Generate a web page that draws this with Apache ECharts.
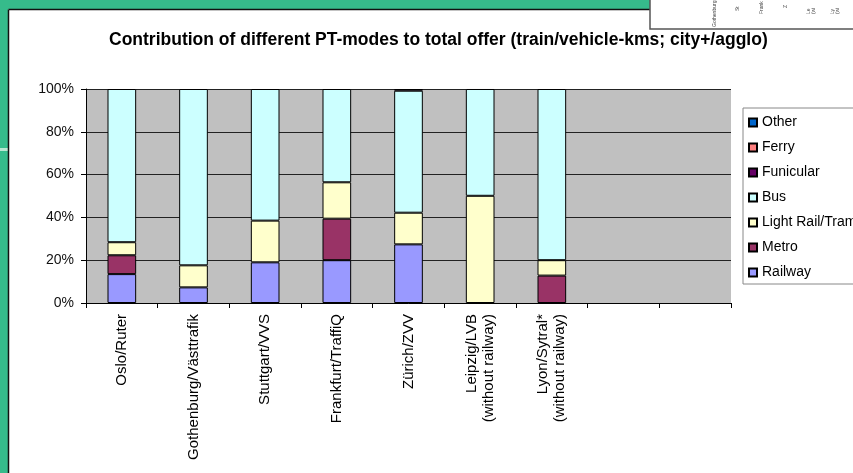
<!DOCTYPE html>
<html>
<head>
<meta charset="utf-8">
<script src="https://cdn.jsdelivr.net/npm/echarts@6/dist/echarts.min.js"></script>
<style>
  html, body { margin: 0; padding: 0; background: #fff; }
  #chart { width: 853px; height: 473px; }
</style>
</head>
<body>
<div id="chart"></div>
<script>
// categories (last two slots are empty in the source chart)
const cities = [
  'Oslo/Ruter', 'Gothenburg/Västtrafik', 'Stuttgart/VVS', 'Frankfurt/TraffiQ', 'Zürich/ZVV',
  'Leipzig/LVB\n(without railway)', 'Lyon/Sytral*\n(without railway)', '', ' '
];
const yTicks = [0, 20, 40, 60, 80, 100];

// shares in % of train/vehicle-kms
const railway   = [13.5, 7.3, 19.0, 20.0, 27.4, null, null, null, null];
const metro     = [8.8, null, null, 19.4, null, null, 12.8, null, null];
const lightRail = [6.1, 10.3, 19.5, 17.0, 14.8, 50.1, 7.2, null, null];
const bus       = [71.6, 82.4, 61.5, 43.6, 57.0, 49.9, 80.0, null, null];
const funicular = [null, null, null, null, 0.8, null, null, null, null];
const ferry     = [null, null, null, null, null, null, null, null, null];
const other     = [null, null, null, null, null, null, null, null, null];

const modes = [
  { name: 'Railway', data: railway, color: '#9999ff' },
  { name: 'Metro', data: metro, color: '#993366' },
  { name: 'Light Rail/Tram', data: lightRail, color: '#ffffcc' },
  { name: 'Bus', data: bus, color: '#ccffff' },
  { name: 'Funicular', data: funicular, color: '#660066' },
  { name: 'Ferry', data: ferry, color: '#ff8080' },
  { name: 'Other', data: other, color: '#0066cc' }
];

const chart = echarts.init(document.getElementById('chart'));
const font = 'Liberation Sans, Arial, sans-serif';

// tiny labels of the thumbnail in the top right corner
const thumb = [[712, 27, 'Gothenburg'], [735, 11, 'St'], [759, 14, 'Frank'], [783, 8, 'Z'], [806, 14, 'Le\n(wi'], [830, 14, 'Ly\n(wi']];

chart.setOption({
  backgroundColor: '#fff',
  animation: false,
  textStyle: { fontFamily: font },
  title: {
    text: 'Contribution of different PT-modes to total offer (train/vehicle-kms; city+/agglo)',
    left: 104,
    top: 26,
    textStyle: { fontFamily: font, fontSize: 17.5, fontWeight: 'bold', color: '#000' }
  },
  legend: {
    orient: 'vertical',
    left: 743,
    top: 108,
    padding: [6, 40, 3, 5],
    icon: 'rect',
    itemWidth: 8,
    itemHeight: 8,
    itemGap: 8,
    backgroundColor: '#fff',
    borderColor: '#888',
    borderWidth: 1,
    data: modes.map(m => m.name).reverse(),
    textStyle: { fontFamily: font, fontSize: 14, color: '#000', lineHeight: 17 }
  },
  grid: { left: 86, right: 122, top: 89, bottom: 170, backgroundColor: '#c0c0c0', show: true, borderWidth: 0 },
  xAxis: {
    type: 'category',
    data: cities,
    axisLine: { lineStyle: { color: '#000', width: 1 } },
    axisTick: { show: true, length: 5, lineStyle: { color: '#000' } },
    axisLabel: { rotate: 90, interval: 0, margin: 11, fontSize: 15, color: '#000', fontFamily: font, lineHeight: 17 }
  },
  yAxis: {
    type: 'value',
    min: yTicks[0],
    max: yTicks[yTicks.length - 1],
    interval: 20,
    axisLine: { show: true, lineStyle: { color: '#000' } },
    axisTick: { show: true, length: 5, lineStyle: { color: '#000' } },
    splitLine: { lineStyle: { color: '#222', width: 1 } },
    axisLabel: { formatter: '{value}%', fontSize: 14, color: '#111', margin: 12, fontFamily: font }
  },
  series: modes.map(m => ({
    name: m.name,
    type: 'bar',
    stack: 'total',
    barWidth: '40%',
    data: m.data,
    itemStyle: { color: m.color, borderColor: '#000', borderWidth: 1 }
  })),
  graphic: [
    // green slide frame around the chart picture
    { type: 'rect', shape: { x: 0, y: 0, width: 853, height: 9 }, style: { fill: '#36bb8b' }, z: 100 },
    { type: 'rect', shape: { x: 0, y: 0, width: 8, height: 473 }, style: { fill: '#36bb8b' }, z: 100 },
    { type: 'rect', shape: { x: 0, y: 148, width: 8, height: 3 }, style: { fill: '#b9e6d2' }, z: 101 },
    { type: 'line', shape: { x1: 8.5, y1: 9.5, x2: 8.5, y2: 473 }, style: { stroke: '#111', lineWidth: 1.5 }, z: 101 },
    { type: 'line', shape: { x1: 8.5, y1: 9.5, x2: 650, y2: 9.5 }, style: { stroke: '#111', lineWidth: 1.5 }, z: 101 },
    // small thumbnail overlapping the top right corner
    { type: 'rect', shape: { x: 650, y: -2, width: 205, height: 31 }, style: { fill: '#fff', stroke: '#555', lineWidth: 1.5 }, z: 102 }
  ].concat(thumb.map(t => ({
    type: 'text', x: t[0], y: t[1], rotation: Math.PI / 2, z: 103,
    style: { text: t[2], font: '5px sans-serif', fill: '#444' }
  })))
});
</script>
</body>
</html>
